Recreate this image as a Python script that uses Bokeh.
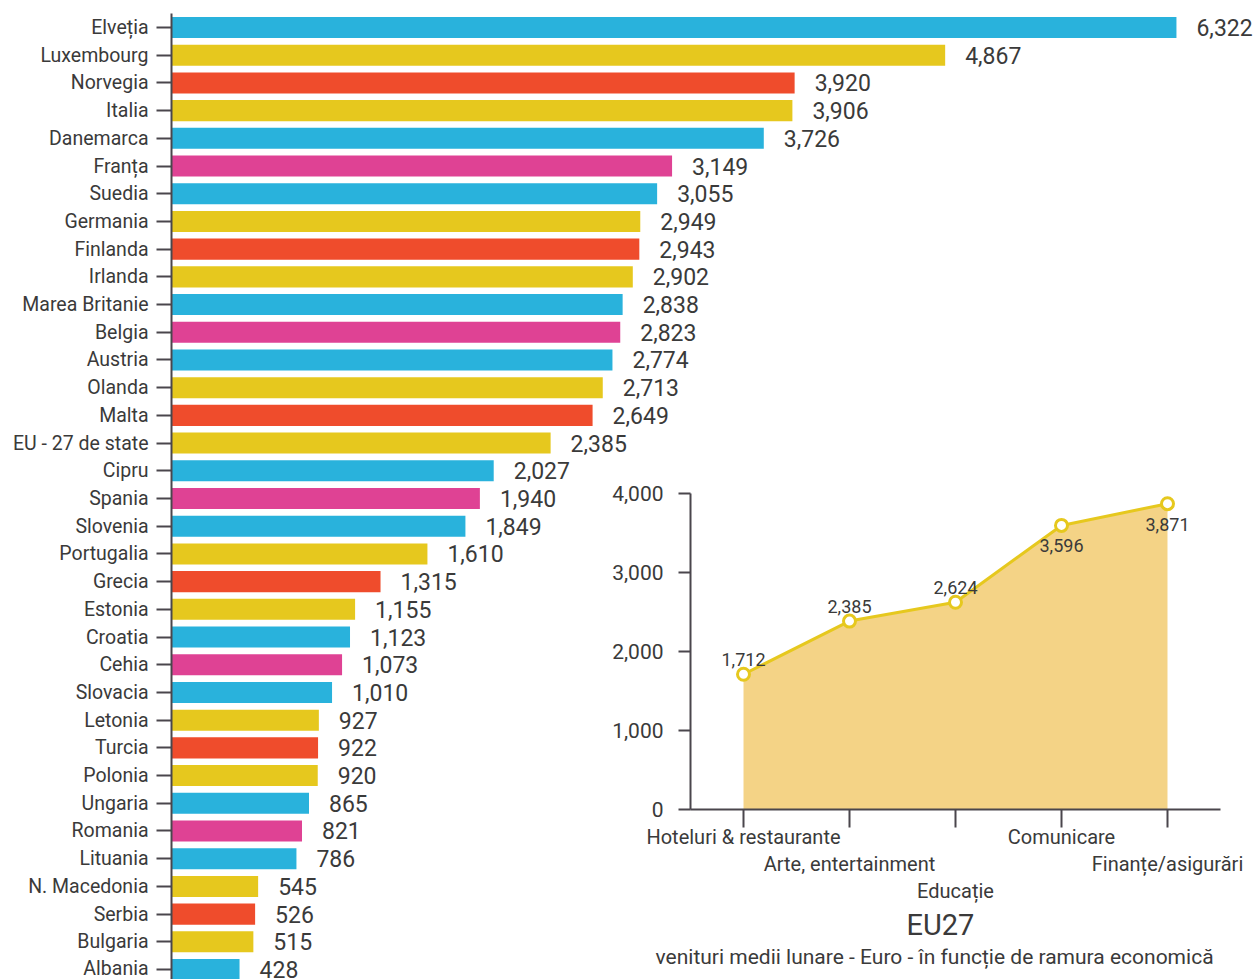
from bokeh.plotting import figure
from bokeh.models import (Range1d, FixedTicker, ColumnDataSource, Title, CDSView,
                          IndexFilter, NumeralTickFormatter, LabelSet, LinearAxis)
from bokeh.layouts import column
from bokeh.embed import file_html
from bokeh.resources import INLINE
from bokeh.core.properties import value

# ---------------- data ----------------
countries = ["Elveția", "Luxembourg", "Norvegia", "Italia", "Danemarca", "Franța", "Suedia",
             "Germania", "Finlanda", "Irlanda", "Marea Britanie", "Belgia", "Austria", "Olanda",
             "Malta", "EU - 27 de state", "Cipru", "Spania", "Slovenia", "Portugalia", "Grecia",
             "Estonia", "Croatia", "Cehia", "Slovacia", "Letonia", "Turcia", "Polonia", "Ungaria",
             "Romania", "Lituania", "N. Macedonia", "Serbia", "Bulgaria", "Albania"]
salaries = [6322, 4867, 3920, 3906, 3726, 3149, 3055, 2949, 2943, 2902, 2838, 2823, 2774, 2713,
            2649, 2385, 2027, 1940, 1849, 1610, 1315, 1155, 1123, 1073, 1010, 927, 922, 920, 865,
            821, 786, 545, 526, 515, 428]
color_groups = ["blue", "yellow", "red", "yellow", "blue", "pink", "blue", "yellow", "red", "yellow",
                "blue", "pink", "blue", "yellow", "red", "yellow", "blue", "pink", "blue", "yellow",
                "red", "yellow", "blue", "pink", "blue", "yellow", "red", "yellow", "blue", "pink",
                "blue", "yellow", "red", "yellow", "blue"]

sectors = ["Hoteluri & restaurante", "Arte, entertainment", "Educație", "Comunicare", "Finanțe/asigurări"]
sector_values = [1712, 2385, 2624, 3596, 3871]
sector_label_rows = [0, 1, 2, 0, 1]
y_ticks_inset = [0, 1000, 2000, 3000, 4000]

title_main = "EU27"
subtitle = "venituri medii lunare - Euro - în funcție de ramura economică"

# ---------------- styles ----------------
palette = {"blue": "#29b2dc", "yellow": "#e6c81e", "red": "#ef4c2c", "pink": "#df4294"}
TXT = "#3a3a3a"
AX = "#4a464c"
FONT = "Roboto"
W, H = 1254, 979

src = ColumnDataSource(dict(
    idx=list(range(len(countries))),
    val=salaries,
    color=[palette[g] for g in color_groups],
    lbl=[f"{v:,}" for v in salaries],
))

p = figure(width=W, height=H, x_range=Range1d(0, 6813), y_range=Range1d(34.36, -0.505),
           output_backend="svg", toolbar_location=None, x_axis_location=None,
           min_border_left=171, min_border_right=0, min_border_top=13, min_border_bottom=0)
p.hbar(y="idx", left=0, right="val", height=0.76, fill_color="color", line_color=None, source=src)
p.add_layout(LabelSet(x="val", y="idx", text="lbl", x_offset=20, text_baseline="middle",
                      text_align="left", text_font=value(FONT), text_font_size="23px",
                      text_color=TXT, source=src))

ya = p.yaxis[0]
ya.ticker = FixedTicker(ticks=list(range(len(countries))))
ya.major_label_overrides = {i: c for i, c in enumerate(countries)}
ya.major_label_text_font = FONT
ya.major_label_text_font_size = "19.5px"
ya.major_label_text_color = TXT
ya.major_tick_out = 15
ya.major_tick_in = 0
ya.major_tick_line_width = 2
ya.major_tick_line_color = AX
ya.minor_tick_line_color = None
ya.axis_line_width = 2
ya.axis_line_color = AX
ya.major_label_standoff = 8
p.grid.visible = False
p.outline_line_color = None

# ---------------- inset ----------------
sector_idx = list(range(len(sectors)))
isrc = ColumnDataSource(dict(x=sector_idx, y=sector_values, lbl=[f"{v:,}" for v in sector_values]))

inset_left, inset_top = 600, 470
inset_h = H - inset_top
q = figure(width=W - inset_left, height=inset_h,
           x_range=Range1d(-0.5, len(sectors) - 0.5), y_range=Range1d(0, 4000),
           output_backend="svg", toolbar_location=None,
           min_border_left=90, min_border_right=34, min_border_top=23, min_border_bottom=170)
q.varea(x="x", y1=0, y2="y", fill_color="#f4d386", source=isrc)
q.line(x="x", y="y", line_color="#e6c81e", line_width=3, source=isrc)
q.scatter(x="x", y="y", size=12, fill_color="white", line_color="#e6c81e", line_width=3, source=isrc)

above = CDSView(filter=IndexFilter([0, 1, 2]))
below = CDSView(filter=IndexFilter([3, 4]))
q.text(x="x", y="y", text="lbl", y_offset=-8, text_baseline="bottom", text_align="center",
       text_font=value(FONT), text_font_size="18px", text_color=TXT, source=isrc, view=above)
q.text(x="x", y="y", text="lbl", y_offset=14, text_baseline="top", text_align="center",
       text_font=value(FONT), text_font_size="18px", text_color=TXT, source=isrc, view=below)

xa = q.xaxis[0]
xa.ticker = FixedTicker(ticks=sector_idx)
xa.major_tick_out = 18
xa.major_tick_in = 0
xa.major_tick_line_width = 2
xa.major_tick_line_color = AX
xa.minor_tick_line_color = None
xa.axis_line_width = 2
xa.axis_line_color = AX
axes = [xa]
for r in (1, 2):
    ax = LinearAxis(ticker=FixedTicker(ticks=[i for i, row in zip(sector_idx, sector_label_rows) if row == r]))
    ax.axis_line_color = None
    ax.major_tick_line_color = None
    ax.minor_tick_line_color = None
    ax.major_tick_out = 0
    ax.major_tick_in = 0
    q.add_layout(ax, "below")
    axes.append(ax)
for r, ax in enumerate(axes):
    ax.major_label_overrides = {i: (s if row == r else "") for i, s, row in zip(sector_idx, sectors, sector_label_rows)}
    ax.major_label_text_font = FONT
    ax.major_label_text_font_size = "20px"
    ax.major_label_text_color = TXT
    ax.major_label_standoff = -3 if r == 0 else 0

yb = q.yaxis[0]
yb.ticker = FixedTicker(ticks=y_ticks_inset)
yb.formatter = NumeralTickFormatter(format="0,0")
yb.major_label_text_font = FONT
yb.major_label_text_font_size = "21px"
yb.major_label_text_color = TXT
yb.major_tick_out = 12
yb.major_tick_in = 0
yb.major_tick_line_width = 2
yb.major_tick_line_color = AX
yb.minor_tick_line_color = None
yb.axis_line_width = 2
yb.axis_line_color = AX
yb.major_label_standoff = 15

q.grid.visible = False
q.outline_line_color = None
q.background_fill_alpha = 0
q.border_fill_alpha = 0

q.add_layout(Title(text=title_main, align="left", text_font=FONT, text_font_size="29px",
                   text_font_style="normal", text_color=TXT, offset=216, standoff=1), "below")
q.add_layout(Title(text=subtitle, align="left", text_font=FONT, text_font_size="21px",
                   text_font_style="normal", text_color=TXT, offset=-35, standoff=1), "below")

inset_box = column(q, margin=(-inset_h, 0, 0, inset_left))
layout = column(p, inset_box, spacing=0)
open("out.html", "w").write(file_html(layout, INLINE))
